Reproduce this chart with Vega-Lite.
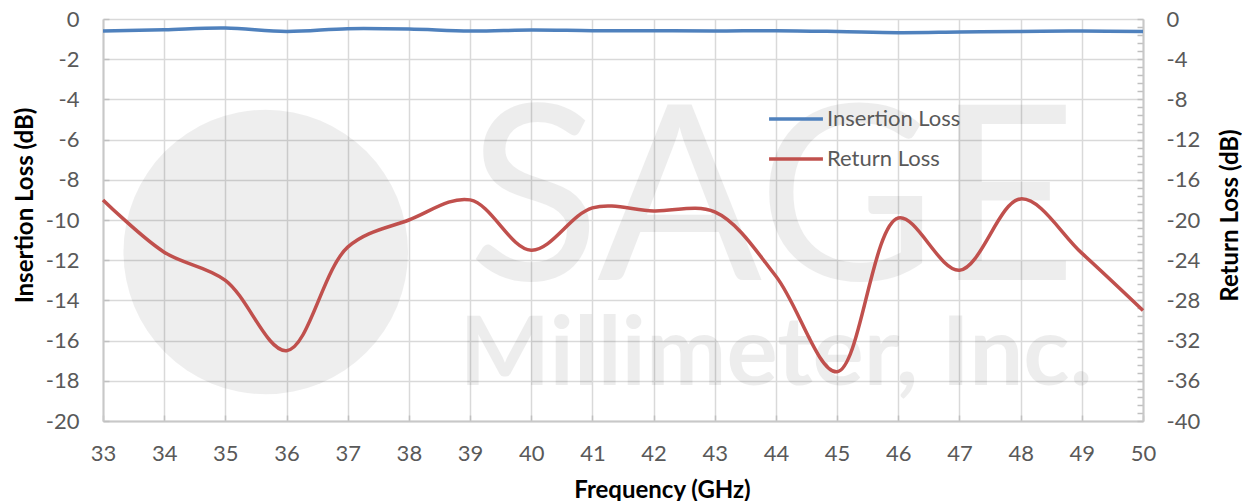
{
  "$schema": "https://vega.github.io/schema/vega-lite/v6.json",
  "autosize": {"type": "none"},
  "width": 1040,
  "height": 402,
  "padding": {"left": 103, "top": 19, "right": 99, "bottom": 80},
  "background": "white",
  "config": {
    "font": "Lato",
    "view": {"stroke": null},
    "axis": {
      "labelFont": "Lato", "labelFontSize": 22, "labelColor": "#595959",
      "titleFont": "Lato", "titleFontSize": 24, "titleFontWeight": "bold", "titleColor": "#000000",
      "domainColor": "#c8c8c8", "domainWidth": 2, "tickColor": "#c0c0c0", "tickWidth": 1.5, "tickSize": -6,
      "gridWidth": 1.5
    },
    "legend": {
      "labelFont": "Lato", "labelFontSize": 22, "labelColor": "#595959"
    }
  },
  "datasets": {
    "main": [
      {"f": 33, "il": -0.6, "rl": -18.0},
      {"f": 34, "il": -0.53, "rl": -23.2},
      {"f": 35, "il": -0.45, "rl": -26.0},
      {"f": 36, "il": -0.62, "rl": -33.0},
      {"f": 37, "il": -0.48, "rl": -22.7},
      {"f": 38, "il": -0.5, "rl": -20.0},
      {"f": 39, "il": -0.6, "rl": -18.0},
      {"f": 40, "il": -0.55, "rl": -23.0},
      {"f": 41, "il": -0.58, "rl": -18.8},
      {"f": 42, "il": -0.58, "rl": -19.1},
      {"f": 43, "il": -0.6, "rl": -19.2},
      {"f": 44, "il": -0.58, "rl": -25.6},
      {"f": 45, "il": -0.62, "rl": -35.1},
      {"f": 46, "il": -0.68, "rl": -19.8},
      {"f": 47, "il": -0.65, "rl": -25.0},
      {"f": 48, "il": -0.62, "rl": -17.9},
      {"f": 49, "il": -0.6, "rl": -23.3},
      {"f": 50, "il": -0.62, "rl": -29.0}
    ],
    "mark": [{"name": "watermark"}]
  },
  "data": {"name": "main"},
  "layer": [
    {
      "layer": [
        {
          "data": {"name": "mark"},
          "mark": {"type": "point", "shape": "circle", "filled": true, "color": "#000000", "opacity": 0.065, "size": 81000, "strokeWidth": 0},
          "encoding": {
            "x": {"datum": 35.66, "type": "quantitative"},
            "y": {"datum": -11.59, "type": "quantitative"}
          }
        },
        {
          "data": {"name": "mark"},
          "mark": {"type": "text", "text": "SAGE", "font": "Lato", "fontWeight": "normal", "fontSize": 244, "color": "#000000", "opacity": 0.065, "align": "center", "baseline": "alphabetic"},
          "encoding": {
            "x": {"datum": 43.94, "type": "quantitative"},
            "y": {"datum": -12.98, "type": "quantitative"}
          }
        },
        {
          "data": {"name": "mark"},
          "mark": {"type": "text", "text": "Millimeter, Inc.", "font": "Lato", "fontWeight": "bold", "fontSize": 96, "color": "#000000", "opacity": 0.065, "align": "center", "baseline": "alphabetic"},
          "encoding": {
            "x": {"datum": 44.0, "type": "quantitative"},
            "y": {"datum": -18.2, "type": "quantitative"}
          }
        },
        {
          "mark": {"type": "line", "interpolate": "catmull-rom", "strokeWidth": 3.5},
          "encoding": {
            "x": {
              "field": "f", "type": "quantitative",
              "scale": {"domain": [33, 50], "nice": false, "zero": false},
              "axis": {
                "title": "Frequency (GHz)",
                "values": [33, 33.5, 34, 34.5, 35, 35.5, 36, 36.5, 37, 37.5, 38, 38.5, 39, 39.5, 40, 40.5, 41, 41.5, 42, 42.5, 43, 43.5, 44, 44.5, 45, 45.5, 46, 46.5, 47, 47.5, 48, 48.5, 49, 49.5, 50],
                "labelExpr": "datum.value % 1 === 0 ? '' + datum.value : ''",
                "labelPadding": 28,
                "labelFlush": false,
                "grid": true,
                "gridColor": {"condition": {"test": "datum.value % 1 === 0", "value": "#d9d9d9"}, "value": "rgba(0,0,0,0)"},
                "titleX": 559, "titleY": 69, "titleBaseline": "middle", "titleAlign": "center"
              }
            },
            "y": {
              "field": "il", "type": "quantitative",
              "scale": {"domain": [-20, 0], "nice": false, "zero": false},
              "axis": {
                "title": "Insertion Loss (dB)",
                "values": [-20, -19.5, -19, -18.5, -18, -17.5, -17, -16.5, -16, -15.5, -15, -14.5, -14, -13.5, -13, -12.5, -12, -11.5, -11, -10.5, -10, -9.5, -9, -8.5, -8, -7.5, -7, -6.5, -6, -5.5, -5, -4.5, -4, -3.5, -3, -2.5, -2, -1.5, -1, -0.5, 0],
                "labelExpr": "datum.value % 2 === 0 ? '' + datum.value : ''",
                "labelPadding": 30,
                "labelFlush": false,
                "grid": true,
                "gridColor": {"condition": {"test": "datum.value % 2 === 0", "value": "#d9d9d9"}, "value": "rgba(0,0,0,0)"},
                "titleX": -78, "titleY": 186, "titleAngle": 270, "titleBaseline": "middle", "titleAlign": "center"
              }
            },
            "color": {
              "datum": "Insertion Loss",
              "scale": {"domain": ["Insertion Loss", "Return Loss"], "range": ["#4f81bd", "#c0504d"]},
              "legend": {
                "title": null, "orient": "none", "legendX": 664, "legendY": 71, "padding": 0,
                "symbolType": "stroke", "symbolSize": 2900, "symbolStrokeWidth": 3.5,
                "labelOffset": 2, "rowPadding": 0
              }
            }
          }
        }
      ]
    },
    {
      "mark": {"type": "line", "interpolate": "catmull-rom", "strokeWidth": 3.5},
      "encoding": {
        "x": {"field": "f", "type": "quantitative", "scale": {"domain": [33, 50], "nice": false, "zero": false}},
        "y": {
          "field": "rl", "type": "quantitative",
          "scale": {"domain": [-40, 0], "nice": false, "zero": false},
          "axis": {
            "orient": "right",
            "title": "Return Loss (dB)",
            "values": [0, -0.8, -1.6, -2.4, -3.2, -4, -4.8, -5.6, -6.4, -7.2, -8, -8.8, -9.6, -10.4, -11.2, -12, -12.8, -13.6, -14.4, -15.2, -16, -16.8, -17.6, -18.4, -19.2, -20, -20.8, -21.6, -22.4, -23.2, -24, -24.8, -25.6, -26.4, -27.2, -28, -28.8, -29.6, -30.4, -31.2, -32, -32.8, -33.6, -34.4, -35.2, -36, -36.8, -37.6, -38.4, -39.2, -40],
            "labelExpr": "datum.value % 4 === 0 ? '' + datum.value : ''",
            "labelPadding": 29,
            "labelFlush": false,
            "grid": false,
            "titleX": 87, "titleY": 196, "titleAngle": 270, "titleBaseline": "middle", "titleAlign": "center"
          }
        },
        "color": {"datum": "Return Loss"}
      }
    }
  ],
  "resolve": {"scale": {"y": "independent"}}
}
